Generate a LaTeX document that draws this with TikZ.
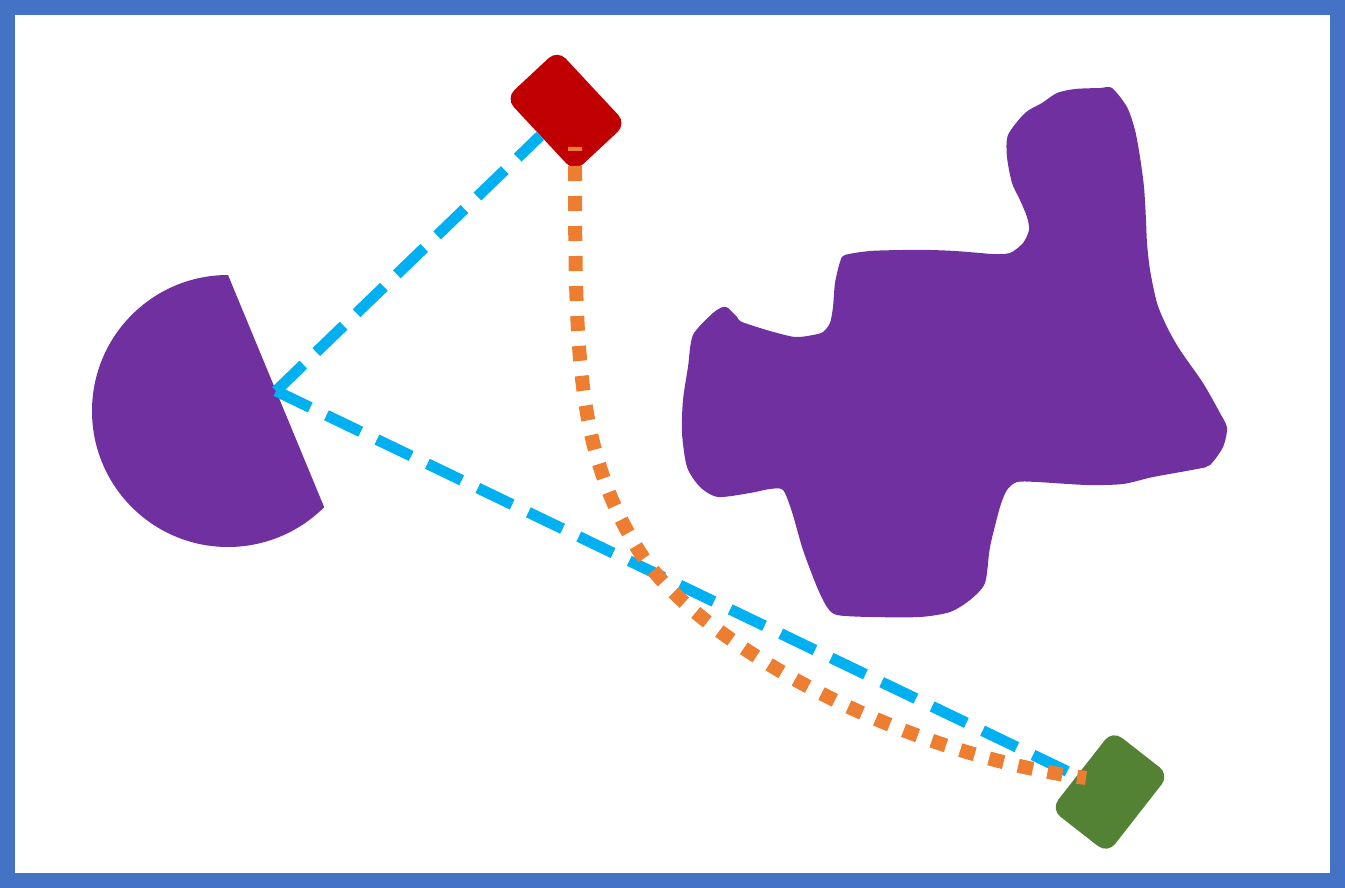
\documentclass[tikz,border=0pt]{standalone}
\usepackage{tikz}
\usetikzlibrary{positioning,calc}
\definecolor{frameblue}{HTML}{4472C4}
\definecolor{shapepurple}{HTML}{7030A0}
\definecolor{boxred}{HTML}{C00000}
\definecolor{boxgreen}{HTML}{548235}
\definecolor{linkblue}{HTML}{00B0F0}
\definecolor{linkorange}{HTML}{ED7D31}

\begin{document}
\begin{tikzpicture}[
    x=0.5pt, y=-0.5pt,
    frame/.style={draw=frameblue, line width=7.5pt},
    tile/.style={rectangle, rounded corners=6pt, minimum width=50.5pt, minimum height=35.5pt, inner sep=0pt},
    bluedash/.style={draw=linkblue, line width=5.5pt, dash pattern=on 19pt off 9pt},
    orangedot/.style={draw=linkorange, line width=7pt, dash pattern=on 7.5pt off 7.5pt, dash phase=5.5pt}
]
    \useasboundingbox (0,0) rectangle (1345,888);
    \draw[frame] (7.5,7.5) rectangle (1337.5,880.5);

    % Define shapes
    \fill[shapepurple] (228,275) arc[start angle=-90, end angle=-315, radius=136] -- cycle;
    \coordinate (chord) at (276,391);
    \node[tile, fill=boxred, rotate=-47] (redbox) at (566,111) {};
    \node[tile, fill=boxgreen, rotate=52, minimum width=50pt, minimum height=36pt] (greenbox) at (1110,792) {};
    \coordinate (redfoot) at (575,147);
    \coordinate (bend) at (639,551);
    \coordinate (greenjoin) at (1086,778);

    % Links
    \draw[bluedash] (chord) -- (redbox);
    \draw[bluedash] (chord) -- (greenbox);
    \draw[orangedot] (redfoot) .. controls +(0,203) and +(-64,-102) .. (bend)
        .. controls +(53,85) and +(-198,-26) .. (greenjoin);

    % Blob
    \fill[shapepurple] plot[smooth cycle, tension=0.45] coordinates {
        (1112,88) (1127,107) (1135,130) (1140,157) (1144,187) (1146,220) (1147,243)
        (1150,270) (1157,303) (1167,327) (1180,350) (1203,383) (1220,413) (1227,428)
        (1223,447) (1210,465) (1197,469) (1153,477) (1123,484) (1087,485) (1037,482)
        (1017,482) (1007,490) (1000,507) (990,547) (985,583) (970,600) (950,612)
        (920,617) (870,617) (837,615) (827,607) (817,587) (803,550) (792,512)
        (783,490) (770,489) (750,493) (718,497) (700,487) (687,467) (682,433)
        (683,400) (688,367) (693,335) (713,313) (723,307) (728,308) (737,317)
        (742,322) (770,331) (795,337) (813,335) (823,332) (830,323) (833,307)
        (835,283) (840,262) (845,255) (870,251) (903,250) (930,250) (955,251)
        (980,253) (993,254) (1010,253) (1023,243) (1029,230) (1027,217) (1020,200)
        (1012,183) (1007,157) (1008,135) (1025,113) (1042,103) (1057,93) (1075,89)
        (1100,88)};
\end{tikzpicture}
\end{document}
